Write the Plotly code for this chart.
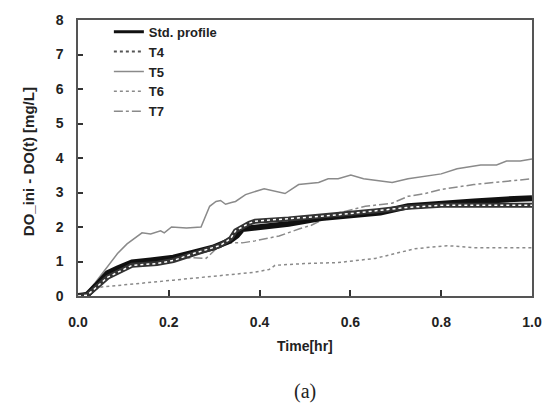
import plotly.graph_objects as go

# ---- data ----
std_x = [0, 0.02, 0.04, 0.065, 0.087, 0.119, 0.16, 0.21, 0.254, 0.297, 0.334, 0.35, 0.362, 0.39, 0.464, 0.536, 0.607, 0.666, 0.727, 0.8, 0.872, 0.944, 1.0]
std_y = [0, 0.03, 0.3, 0.66, 0.8, 0.97, 1.03, 1.11, 1.26, 1.4, 1.6, 1.75, 1.94, 1.97, 2.09, 2.26, 2.37, 2.42, 2.6, 2.69, 2.74, 2.8, 2.83]

t4_x = [0, 0.02, 0.04, 0.065, 0.119, 0.174, 0.21, 0.254, 0.312, 0.336, 0.347, 0.377, 0.39, 0.464, 0.536, 0.607, 0.659, 0.727, 0.8, 1.0]
t4_y = [0, 0.02, 0.25, 0.54, 0.89, 0.94, 1.03, 1.23, 1.46, 1.66, 1.89, 2.11, 2.17, 2.23, 2.31, 2.4, 2.47, 2.57, 2.63, 2.63]

t5_x = [0, 0.02, 0.037, 0.087, 0.108, 0.141, 0.16, 0.182, 0.19, 0.206, 0.239, 0.271, 0.29, 0.304, 0.314, 0.325, 0.34, 0.347, 0.369, 0.41, 0.456, 0.486, 0.53, 0.551, 0.573, 0.601, 0.629, 0.66, 0.692, 0.727, 0.8, 0.835, 0.887, 0.922, 0.944, 0.974, 1.0]
t5_y = [0, 0.1, 0.37, 1.23, 1.51, 1.83, 1.8, 1.89, 1.83, 2.0, 1.97, 2.0, 2.6, 2.74, 2.77, 2.66, 2.72, 2.74, 2.94, 3.11, 2.97, 3.23, 3.29, 3.4, 3.4, 3.51, 3.4, 3.34, 3.29, 3.4, 3.54, 3.69, 3.8, 3.8, 3.91, 3.91, 3.97]

t6_x = [0, 0.015, 0.052, 0.1, 0.139, 0.21, 0.282, 0.336, 0.39, 0.421, 0.434, 0.499, 0.573, 0.623, 0.655, 0.698, 0.742, 0.813, 0.872, 0.944, 1.0]
t6_y = [0, 0.09, 0.26, 0.31, 0.37, 0.46, 0.54, 0.62, 0.69, 0.77, 0.89, 0.94, 0.97, 1.03, 1.09, 1.23, 1.37, 1.46, 1.4, 1.4, 1.4]

t7_x = [0, 0.02, 0.04, 0.065, 0.119, 0.16, 0.21, 0.254, 0.282, 0.319, 0.362, 0.39, 0.443, 0.488, 0.514, 0.562, 0.633, 0.692, 0.727, 0.764, 0.8, 0.872, 0.93, 1.0]
t7_y = [0, 0.03, 0.28, 0.6, 0.9, 0.98, 1.07, 1.11, 1.09, 1.55, 1.54, 1.6, 1.74, 1.95, 2.05, 2.37, 2.6, 2.69, 2.89, 2.97, 3.09, 3.23, 3.31, 3.4]

x_ticks = [0.0, 0.2, 0.4, 0.6, 0.8, 1.0]
x_tick_labels = ["0.0", "0.2", "0.4", "0.6", "0.8", "1.0"]
y_ticks = [0, 1, 2, 3, 4, 5, 6, 7, 8]

FONT = "Liberation Sans, Arial, sans-serif"
GRAY = "#8a8a8a"

fig = go.Figure()

fig.add_trace(go.Scatter(x=t6_x, y=t6_y, mode="lines", name="T6", legendrank=4,
                         line=dict(color=GRAY, width=1.5, dash="dot")))
fig.add_trace(go.Scatter(x=t7_x, y=t7_y, mode="lines", name="T7", legendrank=5,
                         line=dict(color=GRAY, width=1.5, dash="dashdot")))
fig.add_trace(go.Scatter(x=t5_x, y=t5_y, mode="lines", name="T5", legendrank=3,
                         line=dict(color=GRAY, width=1.5)))
fig.add_trace(go.Scatter(x=std_x, y=std_y, mode="lines", showlegend=False,
                         line=dict(color="#111111", width=6)))
fig.add_trace(go.Scatter(x=t4_x, y=t4_y, mode="lines", showlegend=False,
                         line=dict(color="#333333", width=5)))
fig.add_trace(go.Scatter(x=t4_x, y=t4_y, mode="lines", showlegend=False,
                         line=dict(color="white", width=1.5, dash="dot")))
# legend entries
fig.add_trace(go.Scatter(x=[None], y=[None], mode="lines", name="Std. profile", legendrank=1,
                         line=dict(color="#111111", width=3)))
fig.add_trace(go.Scatter(x=[None], y=[None], mode="lines", name="T4", legendrank=2,
                         line=dict(color="#555555", width=2, dash="dot")))

fig.update_layout(
    width=554, height=405,
    margin=dict(l=78, r=15, t=16, b=109),
    paper_bgcolor="white", plot_bgcolor="white",
    font=dict(family=FONT, size=14, color="#222222"),
    showlegend=True,
    legend=dict(x=0.068, y=1.012, xanchor="left", yanchor="top",
                bgcolor="rgba(0,0,0,0)",
                font=dict(family=FONT, size=13, color="#222222", weight="bold"),
                itemwidth=30, tracegroupgap=0),
    xaxis=dict(range=[0, 1], tickvals=x_ticks, ticktext=x_tick_labels,
               showgrid=False, zeroline=False,
               showline=True, linecolor="#555555", linewidth=1.5, mirror=True,
               ticks="inside", ticklen=6, tickcolor="#333333", tickwidth=1.5,
               tickfont=dict(family=FONT, size=14, color="#222222", weight="bold"),
               ticklabelstandoff=12),
    yaxis=dict(range=[0, 8], tickvals=y_ticks,
               showgrid=False, zeroline=False,
               showline=True, linecolor="#555555", linewidth=1.5, mirror=True,
               ticks="inside", ticklen=5, tickcolor="#333333", tickwidth=1.5,
               tickfont=dict(family=FONT, size=14, color="#222222", weight="bold"),
               ticklabelstandoff=10),
    annotations=[
        dict(text="DO_ini - DO(t) [mg/L]", xref="paper", yref="paper",
             x=-0.11, y=0.485, textangle=-90, showarrow=False,
             xanchor="center", yanchor="middle",
             font=dict(family=FONT, size=15, color="#222222", weight="bold")),
        dict(text="Time[hr]", xref="paper", yref="paper",
             x=0.5, y=-0.18, showarrow=False, xanchor="center", yanchor="middle",
             font=dict(family=FONT, size=14, color="#222222", weight="bold")),
        dict(text="(a)", xref="paper", yref="paper",
             x=0.5, y=-0.345, showarrow=False, xanchor="center", yanchor="middle",
             font=dict(family="Liberation Serif, Times New Roman, serif", size=20, color="#222222")),
    ],
)

fig.write_html("out.html")
